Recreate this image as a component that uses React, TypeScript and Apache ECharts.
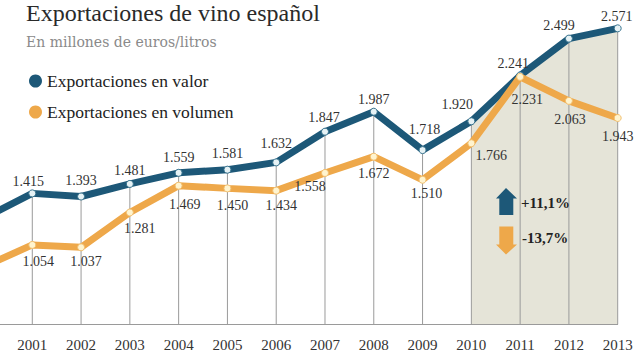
import React, { useEffect, useRef } from "react";
import * as echarts from "echarts";

const years = ["2000", "2001", "2002", "2003", "2004", "2005", "2006", "2007", "2008", "2009", "2010", "2011", "2012", "2013"];
const valor = [1240, 1415, 1393, 1481, 1559, 1581, 1632, 1847, 1987, 1718, 1920, 2241, 2499, 2571];
const volumen = [900, 1054, 1037, 1281, 1469, 1450, 1434, 1558, 1672, 1510, 1766, 2231, 2063, 1943];
const shadedFrom = "2010";
const seriesNames = ["Exportaciones en valor", "Exportaciones en volumen"];
const changeLabels = ["+11,1%", "-13,7%"];

// label offsets (styling) relative to each point
const valorOffsets: number[][] = [
  [0, -13], [-4, -12], [0, -16], [0, -13], [0, -15], [0, -16], [0, -19],
  [-1, -14], [0, -12], [2, -21], [-14, -17], [-7, -12], [-10, -13], [-1, -12],
];
const volumenOffsets: number[][] = [
  [6, 17], [6, 17], [5, 14], [10, 16], [6, 19], [5, 17], [5, 15],
  [-15, 14], [0, 17], [4, 14], [20, 12], [7, 23], [1, 19], [0, 19],
];

const fmt = (v: number) => {
  const s = String(Math.round(v));
  return s.length > 3 ? s.slice(0, s.length - 3) + "." + s.slice(-3) : s;
};

const BLUE = "#1d5878";
const ORANGE = "#eea84a";
const SERIF = "Liberation Serif";
const DX = 50; // chart canvas extends DX px to the left of the visible page

export default function App() {
  const ref = useRef<HTMLDivElement>(null);
  useEffect(() => {
    if (!ref.current) return;
    const chart = echarts.init(ref.current, undefined, { renderer: "svg" });
    const startIdx = years.indexOf(shadedFrom);
    const shaded = valor.map((v, i) => (i >= startIdx ? v : null));
    const labelStyle = {
      show: true,
      position: "inside",
      color: "#333",
      fontFamily: SERIF,
      fontSize: 14,
      formatter: (p: any) => fmt(p.value),
    };
    const pt = (x: number, y: number) => [x + DX, y];
    chart.setOption({
      animation: false,
      backgroundColor: "#ffffff",
      grid: { left: DX - 16.5, right: 26.3, top: 24.2, bottom: 38, containLabel: false },
      xAxis: {
        type: "category",
        data: years,
        boundaryGap: false,
        axisLine: { lineStyle: { color: "#9a9a9a", width: 1 } },
        axisTick: { show: false },
        axisLabel: {
          color: "#333",
          fontFamily: SERIF,
          fontSize: 15,
          margin: 13,
          interval: (i: number) => i > 0,
        },
        splitLine: { show: false },
      },
      yAxis: {
        type: "value",
        min: 500,
        max: 2600,
        show: false,
        splitLine: { show: false },
      },
      legend: {
        orient: "vertical",
        left: DX + 24,
        top: 67,
        itemWidth: 13,
        itemHeight: 13,
        itemGap: 13,
        icon: "circle",
        textStyle: { color: "#222", fontFamily: SERIF, fontSize: 17.5 },
        data: [
          { name: seriesNames[0], itemStyle: { color: BLUE, borderWidth: 0 } },
          { name: seriesNames[1], itemStyle: { color: ORANGE, borderWidth: 0 } },
        ],
      },
      graphic: [
        {
          type: "text",
          left: DX + 26,
          top: 1,
          style: { text: "Exportaciones de vino español", fill: "#2a2a2a", font: `24px "${SERIF}"` },
        },
        {
          type: "text",
          left: DX + 26,
          top: 35,
          style: { text: "En millones de euros/litros", fill: "#8a8a8a", font: `14px "DejaVu Serif"` },
        },
        {
          type: "polygon",
          shape: {
            points: [
              pt(506, 188), pt(517, 198.5), pt(513.3, 198.5), pt(513.3, 215), pt(499.3, 215), pt(499.3, 198.5), pt(496, 198.5),
            ],
          },
          style: { fill: BLUE },
          z: 100,
        },
        {
          type: "polygon",
          shape: {
            points: [
              pt(499.3, 226.5), pt(513.3, 226.5), pt(513.3, 244.5), pt(517, 244.5), pt(506, 254.5), pt(496, 244.5), pt(499.3, 244.5),
            ],
          },
          style: { fill: ORANGE },
          z: 100,
        },
        {
          type: "text",
          left: DX + 521,
          top: 195,
          style: { text: changeLabels[0], fill: "#222", font: `bold 15px "${SERIF}"` },
          z: 100,
        },
        {
          type: "text",
          left: DX + 522,
          top: 230,
          style: { text: changeLabels[1], fill: "#222", font: `bold 15px "${SERIF}"` },
          z: 100,
        },
      ],
      series: [
        {
          name: "shade",
          type: "line",
          data: shaded,
          showSymbol: false,
          symbol: "none",
          lineStyle: { width: 0, opacity: 0 },
          areaStyle: { color: "#e5e4d8", opacity: 1, origin: "start" },
          z: 1,
          silent: true,
        },
        {
          name: "guides",
          type: "custom",
          data: valor.map((v, i) => [i, v]),
          encode: { x: 0, y: 1 },
          z: 2,
          silent: true,
          renderItem: (params: any, api: any) => {
            const top = api.coord([api.value(0), api.value(1)]);
            const bottom = api.coord([api.value(0), 500]);
            return {
              type: "line",
              shape: { x1: top[0], y1: top[1], x2: bottom[0], y2: bottom[1] },
              style: { stroke: "#9a9a9a", lineWidth: 1 },
            };
          },
        },
        {
          name: seriesNames[0],
          type: "line",
          data: valor.map((v, i) => ({ value: v, label: { show: i > 0, offset: valorOffsets[i] } })),
          symbol: "circle",
          symbolSize: 7,
          showSymbol: true,
          lineStyle: { color: BLUE, width: 7 },
          itemStyle: { color: "#e6f2f5", borderColor: "#3a7590", borderWidth: 1 },
          label: labelStyle,
          z: 3,
        },
        {
          name: seriesNames[1],
          type: "line",
          data: volumen.map((v, i) => ({ value: v, label: { show: i > 0, offset: volumenOffsets[i] } })),
          symbol: "circle",
          symbolSize: 7,
          showSymbol: true,
          lineStyle: { color: ORANGE, width: 7 },
          itemStyle: { color: "#fff4cf", borderColor: "#f2c070", borderWidth: 1 },
          label: labelStyle,
          z: 4,
        },
      ],
    });
    return () => chart.dispose();
  }, []);
  return (
    <div
      ref={ref}
      style={{ position: "fixed", left: -DX, top: 0, width: 644 + DX, height: 362, background: "#fff" }}
    />
  );
}
